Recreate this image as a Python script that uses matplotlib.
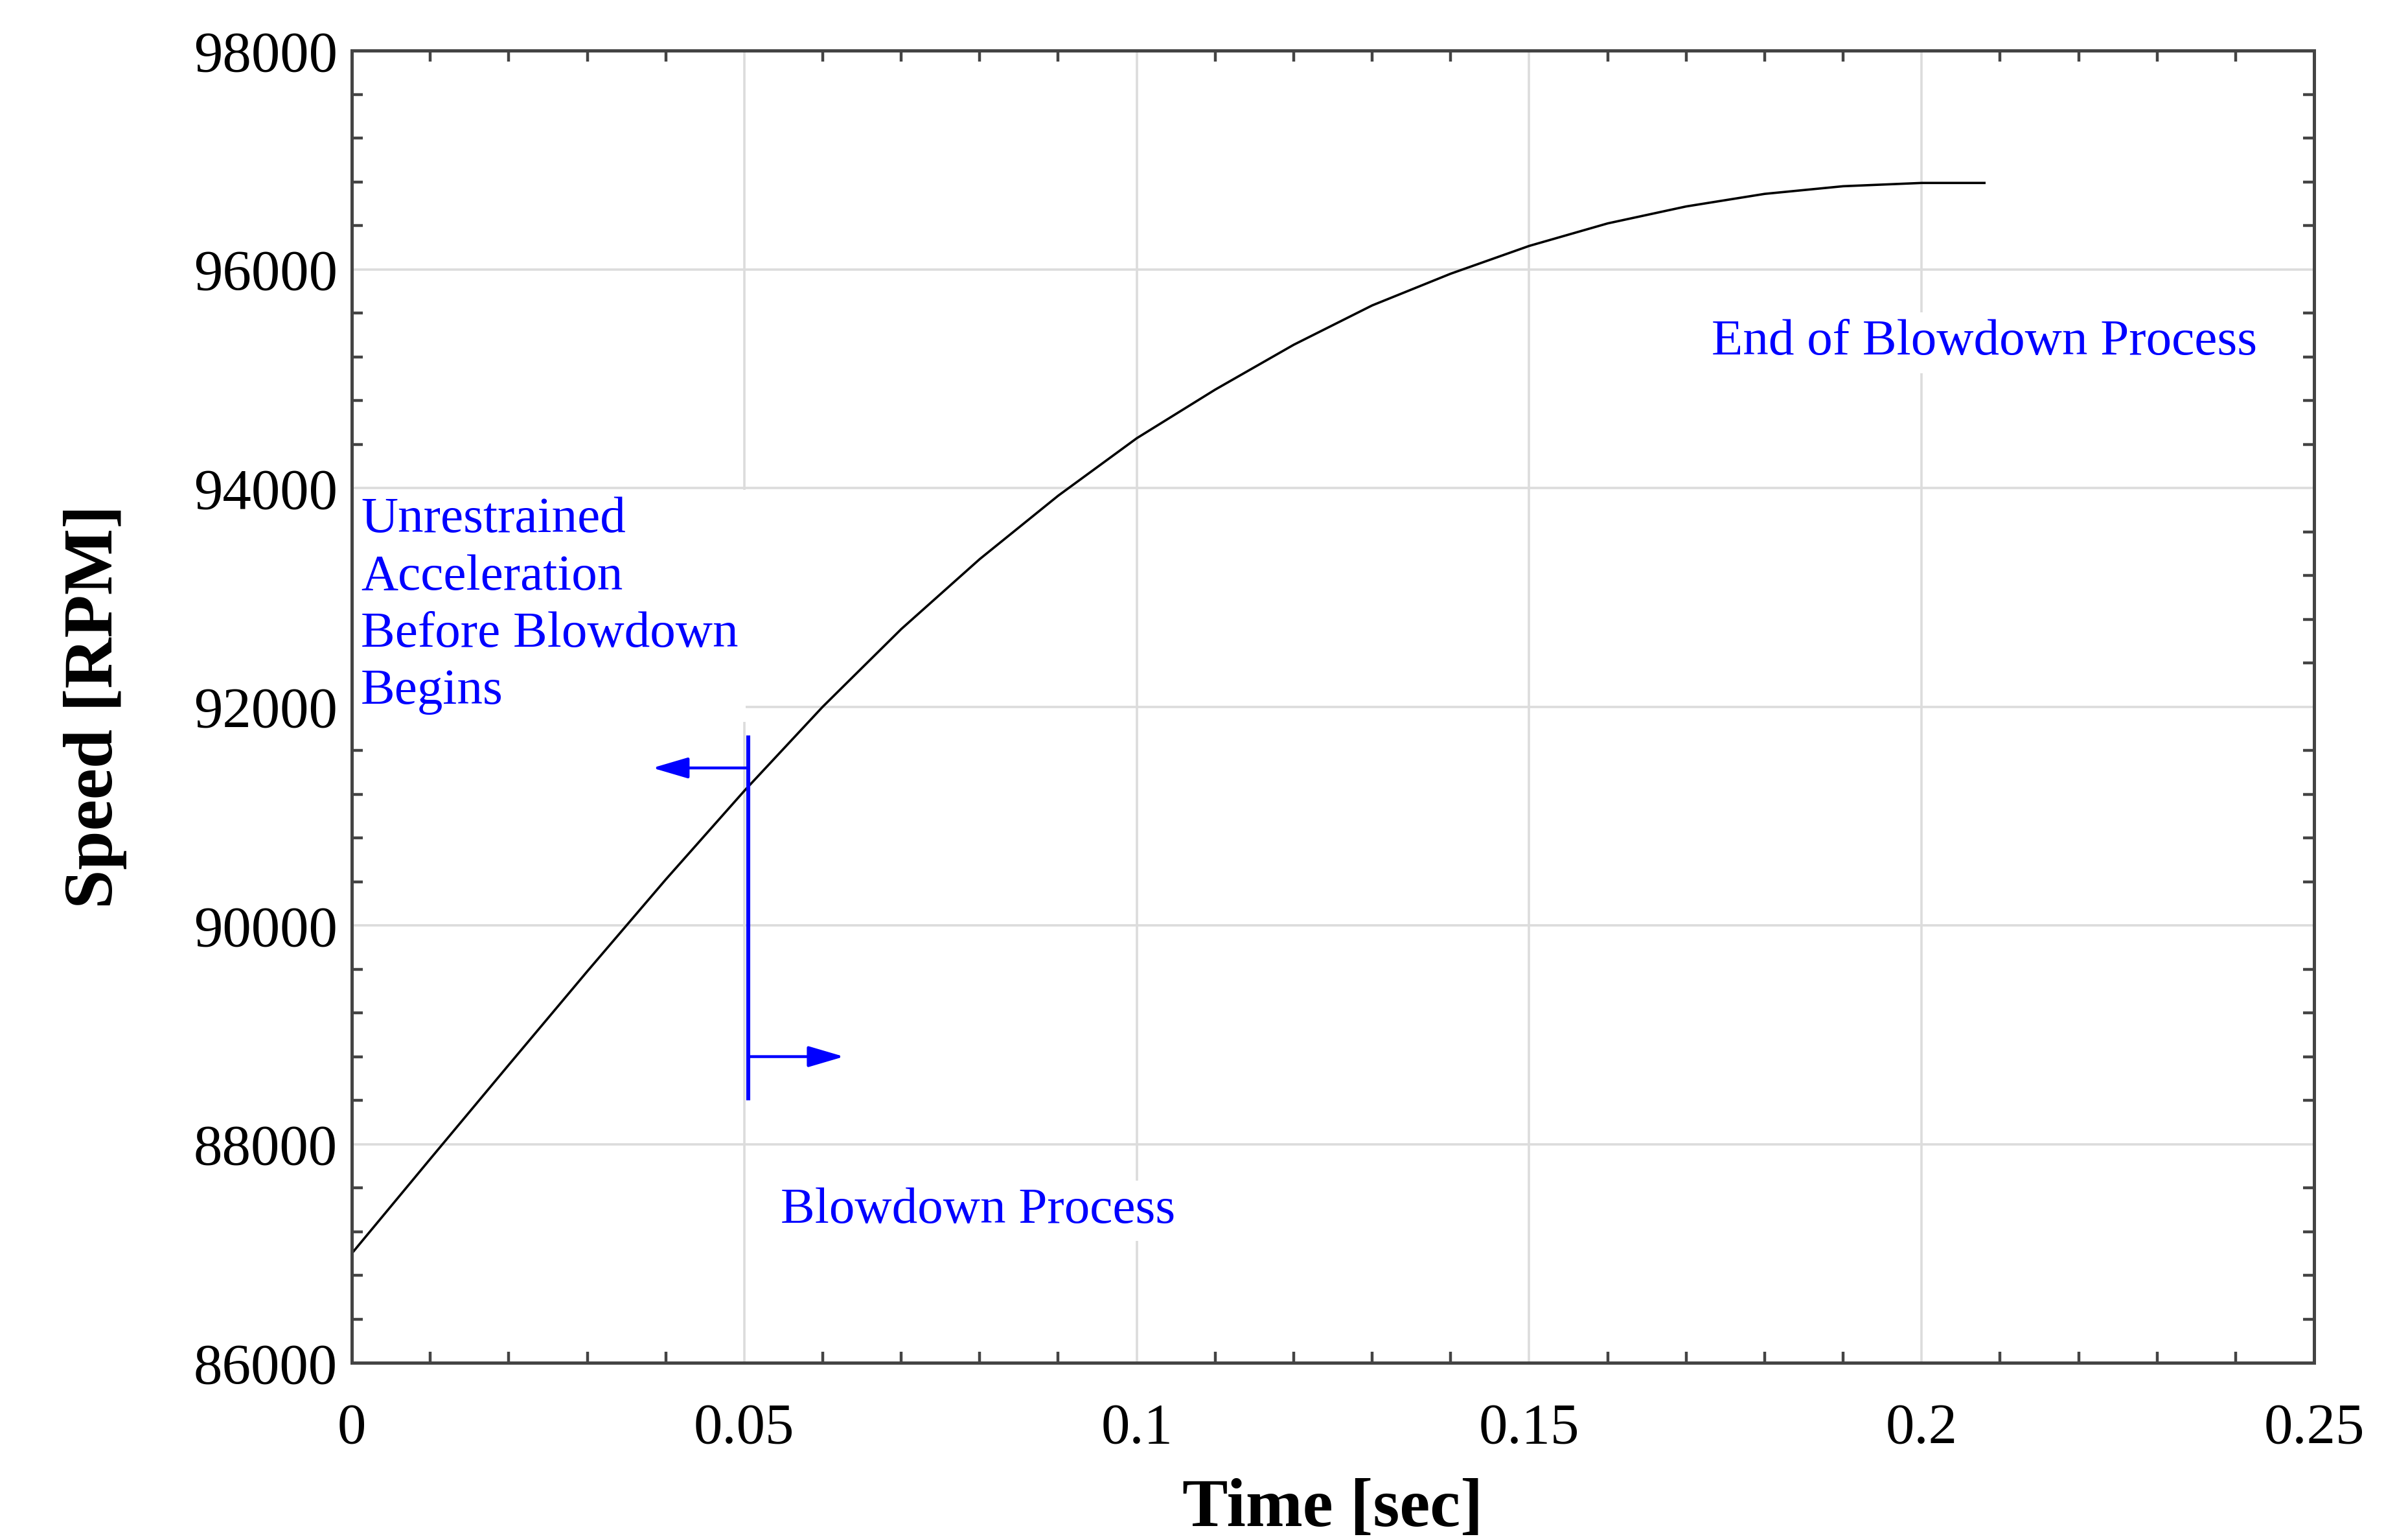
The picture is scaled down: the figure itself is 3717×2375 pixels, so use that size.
import matplotlib
matplotlib.use("Agg")
import matplotlib.pyplot as plt
from matplotlib.ticker import MultipleLocator

# data
time_s = [0.000, 0.010, 0.020, 0.030, 0.040, 0.050, 0.060, 0.070, 0.080, 0.090,
          0.100, 0.110, 0.120, 0.130, 0.140, 0.150, 0.160, 0.170, 0.180, 0.190,
          0.200, 0.208]
speed_rpm = [87000, 87865, 88725, 89580, 90420, 91230, 92000, 92710, 93350, 93930,
             94455, 94900, 95310, 95670, 95960, 96214, 96420, 96575, 96690, 96760,
             96790, 96790]

xticks = [0, 0.05, 0.1, 0.15, 0.2, 0.25]
xtick_labels = ["0", "0.05", "0.1", "0.15", "0.2", "0.25"]
yticks = [86000, 88000, 90000, 92000, 94000, 96000, 98000]

blowdown_start = 0.0505

plt.rcParams["font.family"] = ["Liberation Serif", "DejaVu Serif"]

fig = plt.figure(figsize=(18.585, 11.875), dpi=200)
ax = fig.add_axes([0.1461, 0.1145, 0.8149, 0.8526])

ax.plot(time_s, speed_rpm, color="black", lw=1.3, zorder=2)

ax.set_xlim(0, 0.25)
ax.set_ylim(86000, 98000)
ax.set_xticks(xticks)
ax.set_xticklabels(xtick_labels)
ax.set_yticks(yticks)
ax.set_yticklabels([str(v) for v in yticks])
ax.xaxis.set_minor_locator(MultipleLocator(0.01))
ax.yaxis.set_minor_locator(MultipleLocator(400))

ax.grid(True, which="major", color="#dcdcdc", lw=1.3, zorder=1)
ax.tick_params(which="both", direction="in", top=True, right=True,
               color="#444444", labelsize=32)
ax.tick_params(which="major", length=0, width=0)
ax.tick_params(which="minor", length=6, width=1.6)
ax.tick_params(axis="x", which="major", pad=22)
ax.tick_params(axis="y", which="major", pad=8)
for s in ax.spines.values():
    s.set_color("#444444")
    s.set_linewidth(1.8)

ax.set_xlabel("Time [sec]", fontsize=38, fontweight="bold", labelpad=13)
ax.set_ylabel("Speed [RPM]", fontsize=39, fontweight="bold", labelpad=37)

# blowdown marker and arrows
blue = "#0000ff"
ax.plot([blowdown_start, blowdown_start], [88420, 91720], color=blue, lw=2.2, zorder=4)
arrow = dict(arrowstyle="-|>,head_length=1.7,head_width=0.5", color=blue, lw=1.6,
             mutation_scale=10, shrinkA=0, shrinkB=0)
ax.annotate("", xy=(0.0383, 91440), xytext=(blowdown_start, 91440), arrowprops=arrow, zorder=4)
ax.annotate("", xy=(0.0627, 88800), xytext=(blowdown_start, 88800), arrowprops=arrow, zorder=4)

box = dict(facecolor="white", edgecolor="none", pad=4)
ax.text(0.00117, 93920, "Unrestrained\nAcceleration\nBefore Blowdown\nBegins",
        color=blue, fontsize=28.5, ha="left", va="top", linespacing=1.31,
        bbox=box, zorder=3)
ax.text(0.0798, 87390, "Blowdown Process", color=blue, fontsize=28.5,
        ha="center", va="center", bbox=box, zorder=3)
ax.text(0.2080, 95330, "End of Blowdown Process", color=blue, fontsize=28.5,
        ha="center", va="center", bbox=box, zorder=3)

fig.savefig("out.png", dpi=200, facecolor="white")
